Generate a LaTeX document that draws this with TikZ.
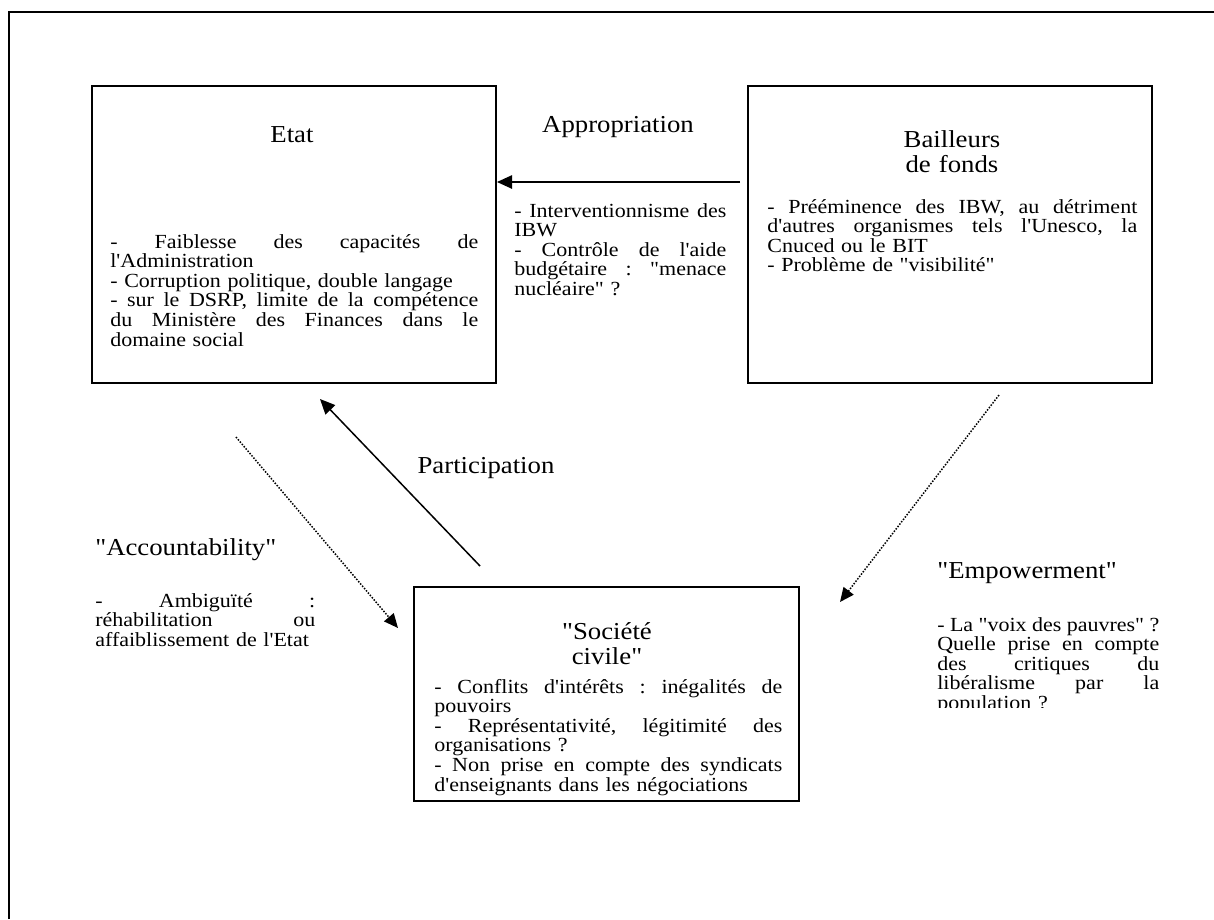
\documentclass[tikz,border=0pt]{standalone}
\usepackage{fontspec}
\newfontfamily\tnr[FakeStretch=1.1]{Liberation Serif}
\usetikzlibrary{arrows.meta}
\newlength{\jw}
\newcommand{\jl}[1]{\leavevmode\hbox to\jw{\spaceskip=0.25em plus 1fil\relax#1}\par}
\newcommand{\nl}[1]{\leavevmode\hbox{#1}\par}
\frenchspacing
\tikzset{
  box/.style={draw, line width=1.2pt, inner sep=0pt},
  head/.style={font={\tnr\fontsize{14.6}{15}\selectfont}, align=center, inner sep=0pt, anchor=base},
  body/.style={font={\tnr\fontsize{12}{11.76}\selectfont\lineskiplimit=-20pt}, text width=#1, align=left,
    inner sep=0pt, anchor=base west, execute at begin node={\global\jw=#1\relax\lineskiplimit=-20pt}},
  link/.style={line width=0.9pt, -{Triangle[length=9pt,width=8pt]}},
  weak/.style={line width=0.9pt, dash pattern=on 0.9pt off 0.9pt, -{Triangle[length=8.5pt,width=7.5pt]}}
}

\begin{document}
\begin{tikzpicture}[x=0.6pt,y=-0.6pt]
    \useasboundingbox (0,0) rectangle (1214,919);
    \draw[line width=1.2pt] (9,919) -- (9,12) -- (1214,12);

    \node[box, minimum width=242.4pt, minimum height=178.2pt] at (294,234.5) (etat) {};
    \node[box, minimum width=242.4pt, minimum height=178.2pt] at (950,234.5) (bail) {};
    \node[box, minimum width=231pt, minimum height=128.4pt] at (606.5,694) (soc) {};

    \node[head, text width=200pt] at (292,142) (etatT) {Etat};
    \node[head, text width=200pt] at (952,147) (bailT) {Bailleurs\\de fonds};
    \node[head, text width=200pt] at (607,639) (socT) {"Société\\civile"};
    \node[head] at (618,132) (appr) {Appropriation};
    \node[head] at (486,473) (part) {Participation};
    \node[head, anchor=base west] at (95,555) (acc) {"Accountability"};
    \node[head, anchor=base west] at (937,578) (emp) {"Empowerment"};

    \node[body=220.8pt] at (110,248) (etatB) {\jl{- Faiblesse des capacités de}
      \nl{l'Administration}
      \nl{- Corruption politique, double langage}
      \jl{- sur le DSRP, limite de la compétence}
      \jl{du Ministère des Finances dans le}
      \nl{domaine social}};
    \node[body=127.2pt] at (514,217) (apprB) {\jl{- Interventionnisme des}
      \nl{IBW}
      \jl{- Contrôle de l'aide}
      \jl{budgétaire : "menace}
      \nl{nucléaire" ?}};
    \node[body=222pt] at (767,213) (bailB) {\jl{- Prééminence des IBW, au détriment}
      \jl{d'autres organismes tels l'Unesco, la}
      \nl{Cnuced ou le BIT}
      \nl{- Problème de "visibilité"}};
    \node[body=132pt] at (95,607) (accB) {\jl{- Ambiguïté :}
      \jl{réhabilitation ou}
      \nl{affaiblissement de l'Etat}};
    \begin{scope}
      \clip (925,600) rectangle (1175,707);
      \node[body=133.2pt] at (937,631) (empB) {\jl{- La "voix des pauvres" ?}
        \jl{Quelle prise en compte}
        \jl{des critiques du}
        \jl{libéralisme par la}
        \nl{population ?}};
    \end{scope}
    \node[body=208.8pt] at (434,693) (socB) {\jl{- Conflits d'intérêts : inégalités de}
      \nl{pouvoirs}
      \jl{- Représentativité, légitimité des}
      \nl{organisations ?}
      \jl{- Non prise en compte des syndicats}
      \nl{d'enseignants dans les négociations}};

    \coordinate (apS) at (740,182);
    \coordinate (paS) at (480,566);
    \coordinate (paE) at (320,399);
    \coordinate (acS) at (236,437);
    \coordinate (acE) at (398,628);
    \coordinate (emS) at (999,395);
    \coordinate (emE) at (840,602);

    \draw[link] (apS) -- (apS -| etat.east);
    \draw[link] (paS) -- (paE);
    \draw[weak] (acS) -- (acE);
    \draw[weak] (emS) -- (emE);
\end{tikzpicture}
\end{document}
